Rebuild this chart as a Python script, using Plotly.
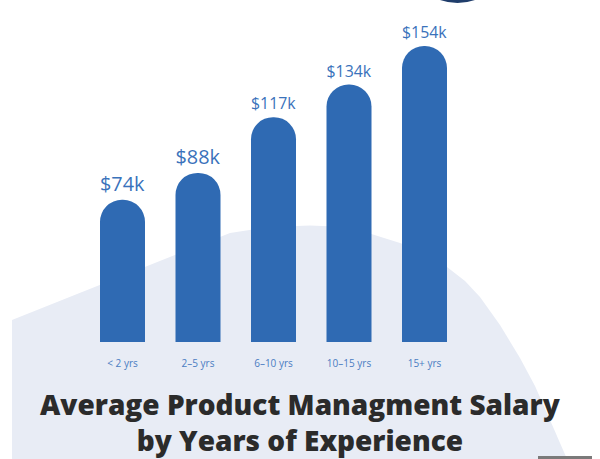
import plotly.graph_objects as go

# ---- data ----
categories = ["< 2 yrs", "2–5 yrs", "6–10 yrs", "10–15 yrs", "15+ yrs"]
salaries_k = [74, 88, 117, 134, 154]
value_labels = ["$74k", "$88k", "$117k", "$134k", "$154k"]
title_lines = ["Average Product Managment Salary", "by Years of Experience"]

W, H = 600, 459
PLOT_BOTTOM = 342  # pixel y of the bar baseline


def px_to_paper(x, y):
    return x / W, (PLOT_BOTTOM - y) / PLOT_BOTTOM


def path_from_pixels(points):
    parts = []
    for i, (x, y) in enumerate(points):
        px, py = px_to_paper(x, y)
        parts.append(("M" if i == 0 else "L") + f"{px:.5f},{py:.5f}")
    return " ".join(parts) + " Z"


hill = [(12, 459), (12, 320), (230, 233), (260, 228.5), (290, 226.2), (310, 225.5),
        (335, 226.5), (365, 232), (400, 243), (425, 253), (447, 267), (465, 281),
        (480, 297), (500, 325), (520, 358), (535, 386), (550, 420), (567, 459)]

fig = go.Figure(
    go.Bar(
        x=categories,
        y=salaries_k,
        width=0.596,
        marker=dict(color="#2f6ab3", line=dict(width=0)),
        text=value_labels,
        textposition="outside",
        textfont=dict(family="Open Sans", size=20, color="#3a72bb"),
        cliponaxis=False,
        hoverinfo="skip",
    )
)

cx0, cy0 = px_to_paper(405, -102)
cx1, cy1 = px_to_paper(510, 3)
gx0, gy0 = px_to_paper(538, 456)
gx1, gy1 = px_to_paper(592, 460)

fig.update_layout(
    width=W,
    height=H,
    margin=dict(l=0, r=0, t=0, b=H - PLOT_BOTTOM, pad=0),
    paper_bgcolor="white",
    plot_bgcolor="rgba(0,0,0,0)",
    showlegend=False,
    barcornerradius="50%",
    xaxis=dict(
        range=[-122.5 / 75.5, -122.5 / 75.5 + W / 75.5],
        showgrid=False,
        zeroline=False,
        showline=False,
        ticks="",
        ticklabelstandoff=14,
        tickfont=dict(family="Open Sans", size=10, color="#4a7cc2"),
        fixedrange=True,
    ),
    yaxis=dict(
        range=[0, 178],
        visible=False,
        fixedrange=True,
    ),
    shapes=[
        dict(type="path", xref="paper", yref="paper", path=path_from_pixels(hill),
             fillcolor="#e8ecf5", line=dict(width=0), layer="below"),
        dict(type="circle", xref="paper", yref="paper", x0=cx0, y0=cy0, x1=cx1, y1=cy1,
             fillcolor="#1f3d6b", line=dict(width=0), layer="above"),
        dict(type="rect", xref="paper", yref="paper", x0=gx0, y0=gy0, x1=gx1, y1=gy1,
             fillcolor="#7a7a7a", line=dict(width=0), layer="above"),
    ],
    annotations=[
        dict(
            text="<br>".join(title_lines),
            xref="paper", yref="paper",
            x=0.5, y=px_to_paper(0, 422)[1],
            xanchor="center", yanchor="middle",
            showarrow=False,
            align="center",
            font=dict(family="Open Sans", size=28, weight=800, color="#2b2b2b"),
        )
    ],
)

fig.write_html(
    "out.html",
    config={"displayModeBar": False},
    post_script="document.body.style.margin='0';document.body.style.overflow='hidden';",
)
